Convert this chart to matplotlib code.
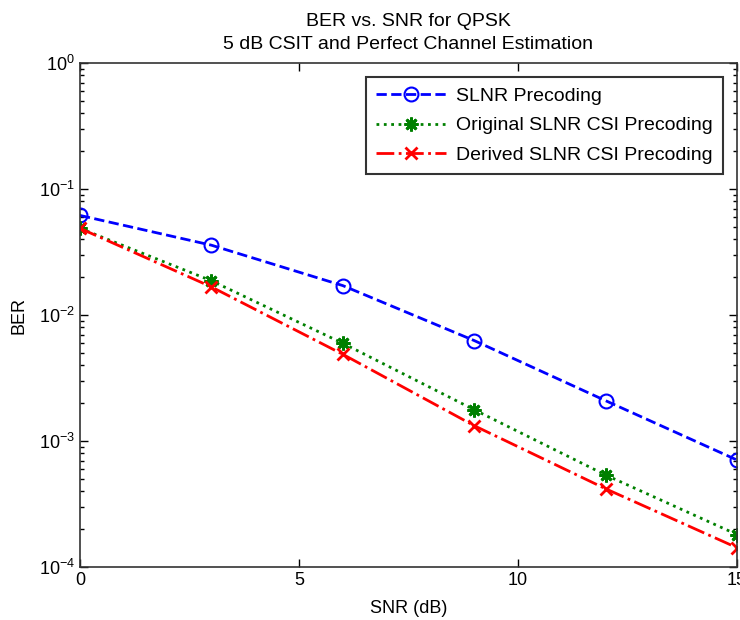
import matplotlib
matplotlib.use("Agg")
import matplotlib.pyplot as plt

plt.rcParams['font.family'] = ['Liberation Sans', 'DejaVu Sans']

snr = [0, 3, 6, 9, 12, 15]
ber_slnr = [0.062, 0.036, 0.0172, 0.0063, 0.0021, 0.00071]
ber_original = [0.049, 0.0188, 0.0060, 0.00178, 0.00054, 0.000182]
ber_derived = [0.049, 0.0168, 0.0049, 0.00133, 0.00042, 0.000143]

fig = plt.figure(figsize=(7.4, 6.2), dpi=100)
ax = fig.add_axes([0.108, 0.085, 0.888, 0.813])

ax.semilogy(snr, ber_slnr, color='blue', linestyle='--', linewidth=2,
            marker='o', markersize=10, markerfacecolor='none',
            markeredgewidth=1.5, label='SLNR Precoding')
ax.semilogy(snr, ber_original, color='green', linestyle=':', linewidth=2,
            marker=(8, 2, 0), markersize=10, markeredgewidth=2,
            label='Original SLNR CSI Precoding')
ax.semilogy(snr, ber_derived, color='red', linestyle='-.', linewidth=2,
            marker='x', markersize=8, markeredgewidth=2,
            label='Derived SLNR CSI Precoding')

ax.set_xlim(0, 15)
ax.set_ylim(1e-4, 1)
ax.set_xticks([0, 5, 10, 15])
ax.tick_params(which='both', direction='in', top=True, right=True,
               labelsize=13, width=1)
ax.tick_params(which='major', length=6)
ax.tick_params(which='minor', length=3)
for s in ax.spines.values():
    s.set_linewidth(1.2)
    s.set_color('#333333')

ax.set_xlabel('SNR (dB)', fontsize=13, labelpad=8)
ax.set_ylabel('BER', fontsize=13, labelpad=8)
ax.set_title('BER vs. SNR for QPSK\n5 dB CSIT and Perfect Channel Estimation',
             fontsize=14, pad=10, linespacing=1.5)

leg = ax.legend(loc='upper right', fontsize=14, fancybox=False,
                edgecolor='#333333', framealpha=1, handlelength=3.6,
                borderaxespad=0.7, labelspacing=0.6, borderpad=0.55,
                handletextpad=0.5)
leg.get_frame().set_linewidth(1.5)

fig.savefig('out.png', dpi=100)
